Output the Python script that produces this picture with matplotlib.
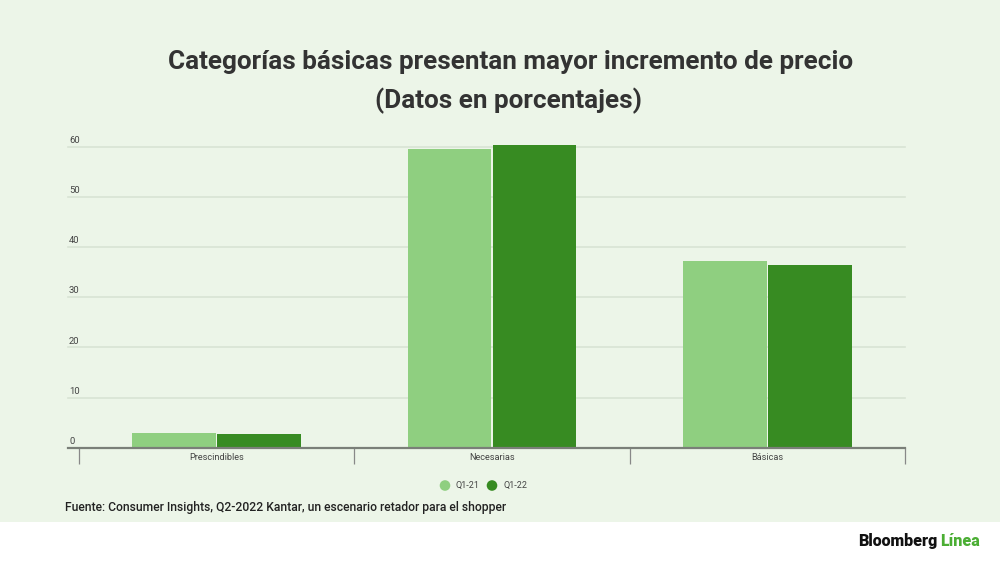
import matplotlib
matplotlib.use("Agg")
import matplotlib.pyplot as plt
import matplotlib.transforms as mtransforms
from matplotlib.patches import Rectangle, Circle
import numpy as np

plt.rcParams['font.family'] = ['Roboto', 'DejaVu Sans']

categories = ["Prescindibles", "Necesarias", "Básicas"]
series_names = ["Q1-21", "Q1-22"]
q1_21 = [2.9, 59.5, 37.2]
q1_22 = [2.7, 60.4, 36.5]
yticks = [0, 10, 20, 30, 40, 50, 60]

light = "#8FCF80"
dark = "#378B22"
bg = "#ECF5E8"

W, H = 1000, 562
fig = plt.figure(figsize=(10, 5.62), dpi=100, facecolor="white")

def fx(px):
    return px / W

def fy(py):
    return 1 - py / H

# green background panel
fig.patches.append(Rectangle((0, fy(521.5)), 1, 1 - fy(521.5), transform=fig.transFigure,
                             facecolor=bg, edgecolor="none", zorder=-5))

base_px = 447.7
ppu = 301.0 / 60.0
ymax = 62
top_px = base_px - ymax * ppu
ax = fig.add_axes([fx(79), fy(base_px), fx(905) - fx(79), (base_px - top_px) / H])
ax.set_facecolor("none")
ax.set_xlim(-0.5, 2.5)
ax.set_ylim(0, ymax)

x = np.arange(len(categories))
w = 0.303
ax.bar(x - 0.1545, q1_21, width=w, color=light, edgecolor="none", zorder=3)
ax.bar(x + 0.1545, q1_22, width=w, color=dark, edgecolor="none", zorder=3)

for s in ax.spines.values():
    s.set_visible(False)

left_ext = -0.5 - 11 / 275.3
# gridlines
for v in yticks[1:]:
    ax.plot([left_ext, 2.5], [v, v], color="#D8E3D4", lw=1.2, zorder=1, clip_on=False)

# baseline
ax.plot([left_ext, 2.5], [0, 0], color="#7A7F78", lw=1.6, clip_on=False, zorder=4)

# y tick labels above gridlines
trans = mtransforms.blended_transform_factory(ax.transAxes, ax.transData)
ax.set_yticks([])
for v in yticks:
    ax.text(-10 / 826, v + 0.35, str(v), transform=trans, ha="left", va="bottom",
            fontsize=6.8, color="#444444")

# x ticks
ax.set_xticks(x)
ax.set_xticklabels(categories, fontsize=6.6, color="#444444")
ax.tick_params(axis="x", which="major", length=0, pad=3.5)
ax.set_xticks([-0.5, 0.5, 1.5, 2.5], minor=True)
ax.tick_params(axis="x", which="minor", length=11.5, width=0.9, color="#888888", direction="out")

# title
fig.text(fx(511), fy(62), "Categorías básicas presentan mayor incremento de precio",
         ha="center", va="center", fontsize=18.8, fontweight="bold", color="#333333")
fig.text(fx(508), fy(101), "(Datos en porcentajes)",
         ha="center", va="center", fontsize=18.8, fontweight="bold", color="#333333")

# legend
for cx, col, name in [(445, light, series_names[0]), (492, dark, series_names[1])]:
    c = Circle((cx, H - 485.5), 5.3, transform=mtransforms.IdentityTransform(),
               facecolor=col, edgecolor="none")
    fig.patches.append(c)
    fig.text(fx(cx + 11), fy(485.5), name, ha="left", va="center", fontsize=6.5, color="#444444")

# footer
fig.text(fx(65), fy(507), "Fuente: Consumer Insights, Q2-2022 Kantar, un escenario retador para el shopper",
         ha="left", va="center", fontsize=8.7, fontweight="medium", color="#222222")

fig.text(fx(937), fy(541), "Bloomberg", ha="right", va="center", fontsize=11.5,
         fontweight="heavy", color="#111111")
fig.text(fx(940), fy(541), "Línea", ha="left", va="center", fontsize=11.5,
         fontweight="heavy", color="#4BAE34")

fig.savefig("out.png", dpi=100, facecolor="white")
